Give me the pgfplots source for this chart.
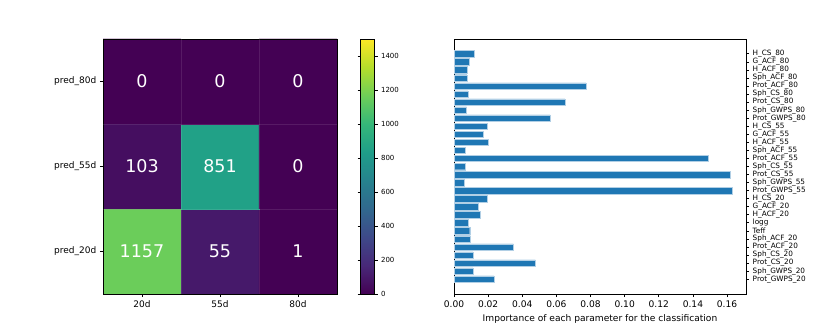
\documentclass[border=0pt]{standalone}
\usepackage{fontspec}
\setmainfont{DejaVu Sans}
\usepackage{pgfplots}
\pgfplotsset{compat=1.18}
\definecolor{mplblue}{HTML}{1F77B4}
\pgfplotsset{/pgf/number format/assume math mode=true, /pgf/number format/1000 sep={}}
% matplotlib viridis, 10 evenly spaced samples
\pgfplotsset{colormap={mplviridis}{
  rgb255=(68,1,84) rgb255=(72,40,120) rgb255=(62,73,137) rgb255=(49,104,142)
  rgb255=(38,130,142) rgb255=(31,158,137) rgb255=(53,183,121) rgb255=(110,206,88)
  rgb255=(181,222,43) rgb255=(253,231,37)}}

\begin{document}
\begin{tikzpicture}
\useasboundingbox (0,0) rectangle (830pt,331pt);
% confusion matrix (cell colours as drawn in the reference, numbers as printed)
\begin{axis}[
  at={(103pt,37pt)}, anchor=south west, scale only axis,
  width=234pt, height=255pt, axis on top,
  xmin=-0.5, xmax=2.5, ymin=-0.5, ymax=2.5,
  xtick={0,1,2}, xticklabels={20d,55d,80d},
  ytick={0,1,2}, yticklabels={pred\_20d,pred\_55d,pred\_80d},
  extra x ticks={0.5,1.5}, extra y ticks={0.5,1.5},
  extra x tick labels={}, extra y tick labels={},
  extra tick style={grid=major, major tick length=0pt, grid style={white, opacity=0.1, line width=0.6pt}},
  tick align=outside, tick pos=left, major tick length=3.2pt,
  tick style={black, line width=0.7pt},
  axis line style={line width=0.7pt},
  ticklabel style={font=\fontsize{9}{10}\selectfont},
  colormap name=mplviridis,
  point meta min=0, point meta max=1500,
  colorbar,
  colorbar style={
    at={(parent axis.north east)}, anchor=north west, xshift=15pt,
    scale only axis, width=14pt, height=255pt,
    ytick={0,200,...,1400},
    tick align=outside, major tick length=3pt,
    tick style={black, line width=0.7pt},
    axis line style={line width=0.7pt},
    yticklabel style={font=\fontsize{7}{8}\selectfont},
  },
]
\addplot[matrix plot*, mesh/cols=3, point meta=explicit] table[meta=c] {
x y c
0 0 1157
1 0 103
2 0 0
0 1 55
1 1 851
2 1 0
0 2 1
1 2 0
2 2 0
};
\addplot[only marks, mark=none, point meta=explicit symbolic, nodes near coords,
  every node near coord/.append style={anchor=center, text=white, font=\fontsize{17.5}{18}\selectfont}]
  table[meta=c] {
x y c
0 0 1157
1 0 55
2 0 1
0 1 103
1 1 851
2 1 0
0 2 0
1 2 0
2 2 0
};
\end{axis}
% feature importance
\begin{axis}[
  at={(454pt,37pt)}, anchor=south west, scale only axis,
  width=292pt, height=255pt,
  xbar, bar width=0.8,
  xmin=0, xmax=0.1711, ymin=-1.84, ymax=29.84,
  xtick={0,0.02,0.04,0.06,0.08,0.10,0.12,0.14,0.16},
  xticklabel style={font=\fontsize{9.1}{10}\selectfont, /pgf/number format/.cd, fixed, fixed zerofill, precision=2},
  ytick={0,...,28},
  yticklabels={Prot\_GWPS\_20,Sph\_GWPS\_20,Prot\_CS\_20,Sph\_CS\_20,Prot\_ACF\_20,Sph\_ACF\_20,Teff,logg,H\_ACF\_20,G\_ACF\_20,H\_CS\_20,Prot\_GWPS\_55,Sph\_GWPS\_55,Prot\_CS\_55,Sph\_CS\_55,Prot\_ACF\_55,Sph\_ACF\_55,H\_ACF\_55,G\_ACF\_55,H\_CS\_55,Prot\_GWPS\_80,Sph\_GWPS\_80,Prot\_CS\_80,Sph\_CS\_80,Prot\_ACF\_80,Sph\_ACF\_80,H\_ACF\_80,G\_ACF\_80,H\_CS\_80},
  xtick pos=left, ytick pos=right, yticklabel pos=right,
  tick align=outside, major tick length=3.2pt,
  tick style={black, line width=0.7pt},
  axis line style={line width=0.7pt},
  yticklabel style={font=\fontsize{7.3}{8}\selectfont},
  xlabel={Importance of each parameter for the classification},
  xlabel style={font=\fontsize{9.1}{10}\selectfont},
]
\addplot[fill=mplblue, draw=mplblue!35, line width=0.4pt] table {
x y
0.0234 0
0.0111 1
0.0477 2
0.0111 3
0.0348 4
0.0096 5
0.0092 6
0.0082 7
0.0154 8
0.0141 9
0.0193 10
0.1633 11
0.0061 12
0.1621 13
0.0064 14
0.1489 15
0.0068 16
0.0203 17
0.0172 18
0.0195 19
0.0563 20
0.0074 21
0.0649 22
0.0082 23
0.0772 24
0.0076 25
0.0078 26
0.0088 27
0.0121 28
};
\end{axis}
\end{tikzpicture}
\end{document}
